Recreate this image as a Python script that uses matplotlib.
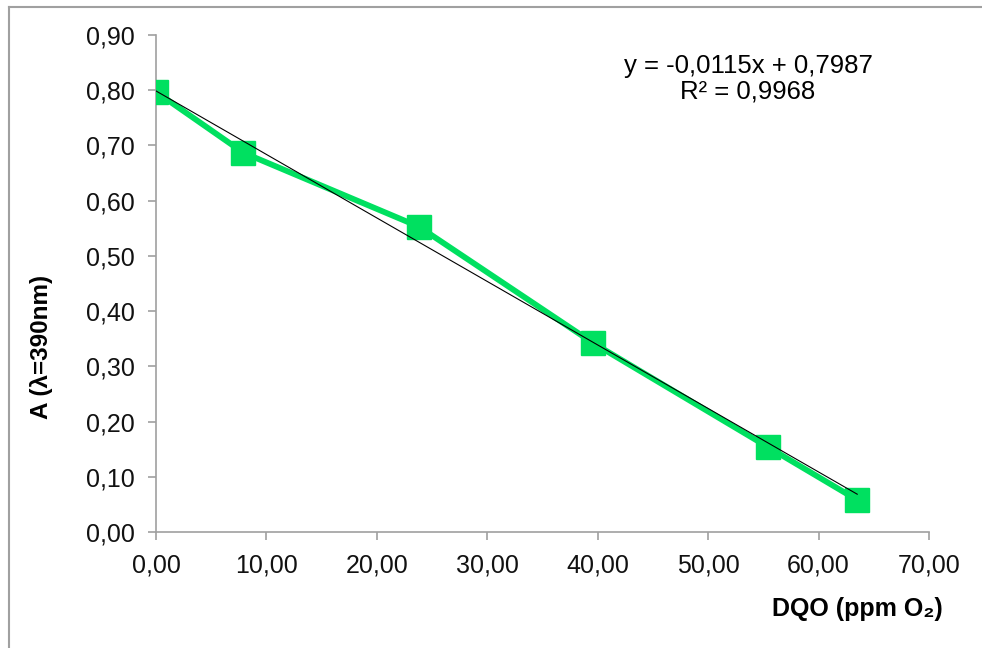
import numpy as np
import matplotlib
matplotlib.use('Agg')
import matplotlib.pyplot as plt
from matplotlib.lines import Line2D
from matplotlib.ticker import FuncFormatter

plt.rcParams['font.family'] = ['Liberation Sans', 'DejaVu Sans']

# ── Dados ────────────────────────────────────────────────────────────────────
dqo = [0.0, 7.9, 23.8, 39.6, 55.4, 63.5]          # ppm O2
absorb = [0.797, 0.687, 0.553, 0.342, 0.154, 0.058]  # A (390 nm)

slope = -0.0115
intercept = 0.7987
r2 = 0.9968

verde = '#00E060'
cinza = '#A0A0A0'

fig = plt.figure(figsize=(9.82, 6.48), dpi=100, facecolor='white')
ax = fig.add_axes([156 / 982, 1 - 532 / 648, 773 / 982, 497 / 648])

ax.plot(dqo, absorb, color=verde, linewidth=4.2, marker='s', markersize=17,
        markerfacecolor=verde, markeredgecolor=verde, zorder=3)

xt = np.array([dqo[0], dqo[-1]])
ax.plot(xt, slope * xt + intercept, color='black', linewidth=0.8, zorder=4)

ax.set_xlim(0, 70)
ax.set_ylim(0, 0.9)
ax.set_xticks(np.arange(0, 71, 10))
ax.set_yticks(np.arange(0, 0.91, 0.1))
ax.xaxis.set_major_formatter(FuncFormatter(lambda v, p: f'{v:.2f}'.replace('.', ',')))
ax.yaxis.set_major_formatter(FuncFormatter(lambda v, p: f'{v:.2f}'.replace('.', ',')))

for s in ['top', 'right']:
    ax.spines[s].set_visible(False)
for s in ['left', 'bottom']:
    ax.spines[s].set_color(cinza)
    ax.spines[s].set_linewidth(1.2)
ax.tick_params(axis='both', direction='out', length=5.5, width=1.2, color=cinza,
               labelsize=18, pad=10, labelcolor='#111111')

ax.set_xlabel('DQO (ppm O₂)', fontsize=18, fontweight='bold', ha='right')
ax.xaxis.set_label_coords(1.018, -0.13)
ax.set_ylabel('A (λ=390nm)', fontsize=17.5, fontweight='bold')
ax.yaxis.set_label_coords(-0.133, 0.372)

eq = f'y = {slope:.4f}x + {intercept:.4f}'.replace('.', ',')
ax.text(748, 648 - 79, eq + '\n' + f'R² = {r2:.4f}'.replace('.', ','),
        transform=None, ha='center', va='center', fontsize=18.5,
        linespacing=1.1)

# moldura do gráfico
fig.add_artist(Line2D([9 / 982, 9 / 982], [0, 1 - 7 / 648], color=cinza, linewidth=1.5))
fig.add_artist(Line2D([9 / 982, 1], [1 - 7 / 648, 1 - 7 / 648], color=cinza, linewidth=1.5))

fig.savefig('out.png', dpi=100, facecolor='white')
